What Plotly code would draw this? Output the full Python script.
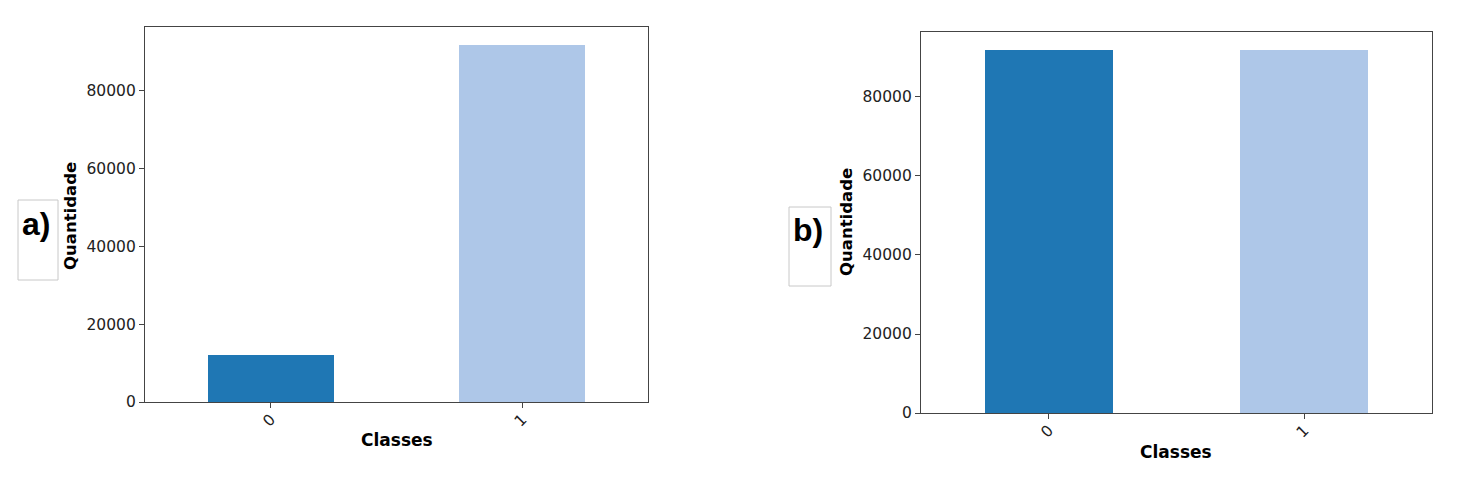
import plotly.graph_objects as go

classes = ["0", "1"]
counts_a = [12000, 91850]
counts_b = [91850, 91850]
colors = ["#1f77b4", "#aec7e8"]
yticks = [0, 20000, 40000, 60000, 80000]
ytick_labels = ["0", "20000", "40000", "60000", "80000"]

OFF = 8  # page body margin
W, H = 1459 - OFF, 489 - OFF
def px_x(v): return (v - OFF) / W
def px_y(v): return 1 - (v - OFF) / H

fig = go.Figure()
fig.add_trace(go.Bar(x=[0, 1], y=counts_a, marker_color=colors, width=0.5,
                     marker_line_width=0, xaxis="x", yaxis="y", showlegend=False))
fig.add_trace(go.Bar(x=[0, 1], y=counts_b, marker_color=colors, width=0.5,
                     marker_line_width=0, xaxis="x2", yaxis="y2", showlegend=False))

axis_common = dict(showline=True, linecolor="#444", linewidth=1.3, mirror=True,
                   ticks="outside", ticklen=5, tickcolor="#444", showgrid=False,
                   zeroline=False, automargin=False,
                   tickfont=dict(family="DejaVu Sans", size=15.5, color="#222"))

fig.update_layout(
    width=W, height=H, margin=dict(l=0, r=0, t=0, b=0, autoexpand=False),
    plot_bgcolor="white", paper_bgcolor="white", bargap=0,
    xaxis=dict(domain=[px_x(145), px_x(648)], anchor="y", range=[-0.5, 1.5],
               tickvals=[0, 1], ticktext=classes, tickangle=-45,
               ticklabelstandoff=-4, **axis_common),
    yaxis=dict(domain=[px_y(402), px_y(27)], anchor="x", range=[0, 96450],
               tickvals=yticks, ticktext=ytick_labels, **axis_common),
    xaxis2=dict(domain=[px_x(921), px_x(1432)], anchor="y2", range=[-0.5, 1.5],
                tickvals=[0, 1], ticktext=classes, tickangle=-45,
                ticklabelstandoff=-4, **axis_common),
    yaxis2=dict(domain=[px_y(413), px_y(32)], anchor="x2", range=[0, 96450],
                tickvals=yticks, ticktext=ytick_labels, **axis_common),
)

def ann(x, y, text, size, angle=0, family="DejaVu Sans"):
    fig.add_annotation(x=px_x(x), y=px_y(y), xref="paper", yref="paper",
                       text=text, showarrow=False, textangle=angle,
                       font=dict(family=family, size=size, color="black"),
                       xanchor="center", yanchor="middle")

ann(70, 216, "<b>Quantidade</b>", 16.5, -90)
ann(397, 440, "<b>Classes</b>", 17)
ann(846, 222, "<b>Quantidade</b>", 16.5, -90)
ann(1176, 452, "<b>Classes</b>", 17)
ann(36, 224, "<b>a)</b>", 32, family="Liberation Sans")
ann(808, 230, "<b>b)</b>", 32, family="Liberation Sans")

for (x0, y0, x1, y1) in [(18, 200, 58, 280), (789, 207, 831, 286)]:
    fig.add_shape(type="rect", xref="paper", yref="paper",
                  x0=px_x(x0), x1=px_x(x1), y0=px_y(y1), y1=px_y(y0),
                  line=dict(color="#c8c8c8", width=1), layer="below")

fig.write_html("out.html")
